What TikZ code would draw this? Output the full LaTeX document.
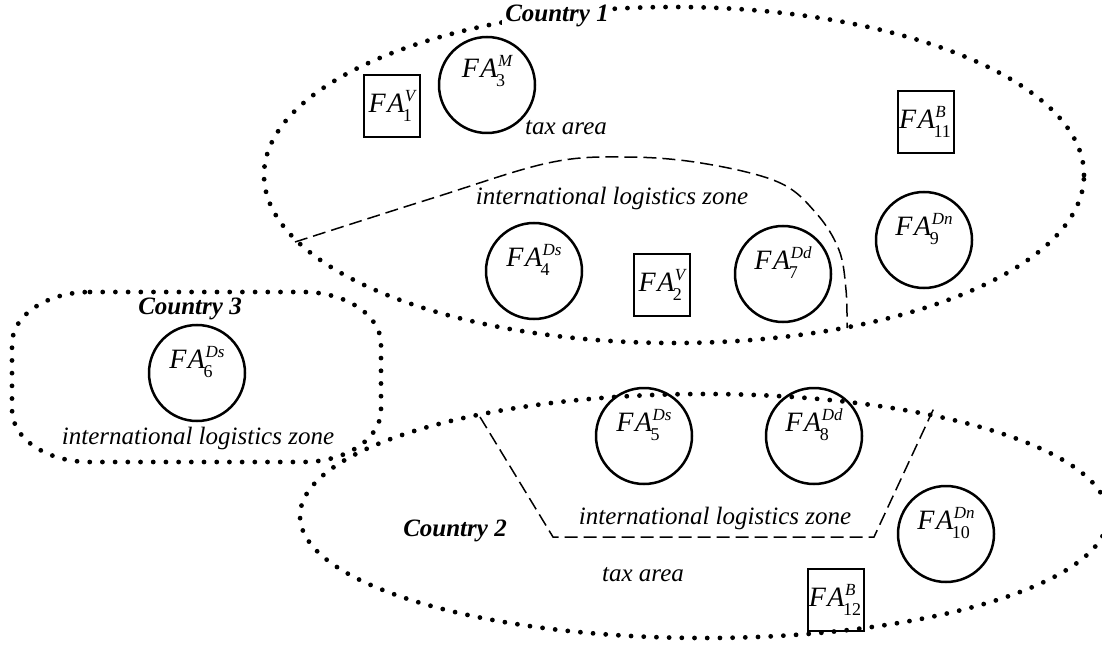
\documentclass[tikz,border=0pt]{standalone}
\usepackage{fontspec}
\setmainfont{Liberation Serif}
\newcommand\FAlab[2]{\textit{F\kern1.5pt A}\kern0.5pt%
 \setbox0=\hbox{\raisebox{-9pt}{\fontsize{18}{18}\selectfont\upshape #1}}%
 \setbox2=\hbox{\raisebox{11pt}{\fontsize{17}{17}\selectfont\itshape #2}}%
 \ifdim\wd0>\wd2 \wd2=\wd0\relax\fi
 \rlap{\kern-2pt\box0}\box2}
\begin{document}
\begin{tikzpicture}[x=1pt,y=-1pt,
 dotline/.style={line width=4.8pt, dash pattern=on 0pt off 12.7pt, line cap=round},
 zoneline/.style={line width=1.5pt, dash pattern=on 13pt off 6pt},
 facirc/.style={draw, circle, line width=2.5pt, minimum size=96pt, inner sep=0pt},
 fasq/.style={draw, rectangle, line width=2.5pt, minimum width=56pt, minimum height=62pt, inner sep=0pt},
 lbl/.style={font=\fontsize{25}{30}\selectfont\itshape, inner sep=0pt},
 ctry/.style={font=\fontsize{25}{30}\selectfont\bfseries\itshape, inner sep=0pt},
 falbl/.style={font=\fontsize{28}{32}\selectfont, inner sep=0pt}]
\useasboundingbox (0,0) rectangle (1102,652);
% country outlines
\draw[dotline] (674,175) ellipse [x radius=410pt, y radius=168pt];
\draw[dotline] (704,516) ellipse [x radius=404pt, y radius=122pt];
\draw[dotline] (90,292) -- (303,292)
  arc[start angle=90, end angle=0, x radius=78pt, y radius=52pt] -- (381,410)
  arc[start angle=0, end angle=-90, x radius=78pt, y radius=52pt] -- (90,462)
  arc[start angle=-90, end angle=-180, x radius=78pt, y radius=52pt] -- (12,344)
  arc[start angle=180, end angle=90, x radius=78pt, y radius=52pt] -- cycle;
% logistics zone borders
\coordinate (z1s) at (295,242);
\coordinate (z1e) at (847,328);
\draw[zoneline] plot[smooth, tension=0.6] coordinates {(z1s) (433,198) (548,163) (624,157) (701,163) (778,182) (816,213) (839,250) (846,290) (z1e)};
\coordinate (z2a) at (480,417);
\coordinate (z2b) at (553,537);
\coordinate (z2c) at (874,537);
\coordinate (z2d) at (934,408);
\draw[zoneline] (z2a) -- (z2b) -- (z2c) -- (z2d);
% labels
\node[ctry, fill=white, inner sep=3pt] (c1) at (557,16) {Country 1};
\node[ctry] (c3) at (190,309) {Country 3};
\node[ctry] (c2) at (455,531) {Country 2};
\node[lbl] (ta1) at (566,128) {tax area};
\node[lbl] (ilz1) at (612,198) {international logistics zone};
\node[lbl] (ilz3) at (198,438) {international logistics zone};
\node[lbl] (ilz2) at (715,518) {international logistics zone};
\node[lbl] (ta2) at (643,575) {tax area};
% facilities country 1
\node[fasq] (f1) at (392,106) {};
\node[falbl] at (f1.center) {\FAlab{1}{V}};
\node[facirc] (f3) at (487,85) {};
\node[falbl] at ([yshift=14pt]f3.center) {\FAlab{3}{M}};
\node[fasq] (f11) at (926,122) {};
\node[falbl] at (f11.center) {\FAlab{11}{B}};
\node[facirc] (f9) at (924,240) {};
\node[falbl] at ([yshift=11pt]f9.center) {\FAlab{9}{Dn}};
\node[facirc] (f4) at (534,271) {};
\node[falbl] at ([yshift=11pt]f4.center) {\FAlab{4}{Ds}};
\node[fasq] (f2) at (662,285) {};
\node[falbl] at (f2.center) {\FAlab{2}{V}};
\node[facirc] (f7) at (783,274) {};
\node[falbl] at ([yshift=11pt]f7.center) {\FAlab{7}{Dd}};
% country 3
\node[facirc] (f6) at (197,373) {};
\node[falbl] at ([yshift=11pt]f6.center) {\FAlab{6}{Ds}};
% country 2
\node[facirc] (f5) at (644,436) {};
\node[falbl] at ([yshift=11pt]f5.center) {\FAlab{5}{Ds}};
\node[facirc] (f8) at (814,436) {};
\node[falbl] at ([yshift=11pt]f8.center) {\FAlab{8}{Dd}};
\node[facirc] (f10) at (946,534) {};
\node[falbl] at ([yshift=11pt]f10.center) {\FAlab{10}{Dn}};
\node[fasq] (f12) at (836,600) {};
\node[falbl] at (f12.center) {\FAlab{12}{B}};
\end{tikzpicture}
\end{document}
